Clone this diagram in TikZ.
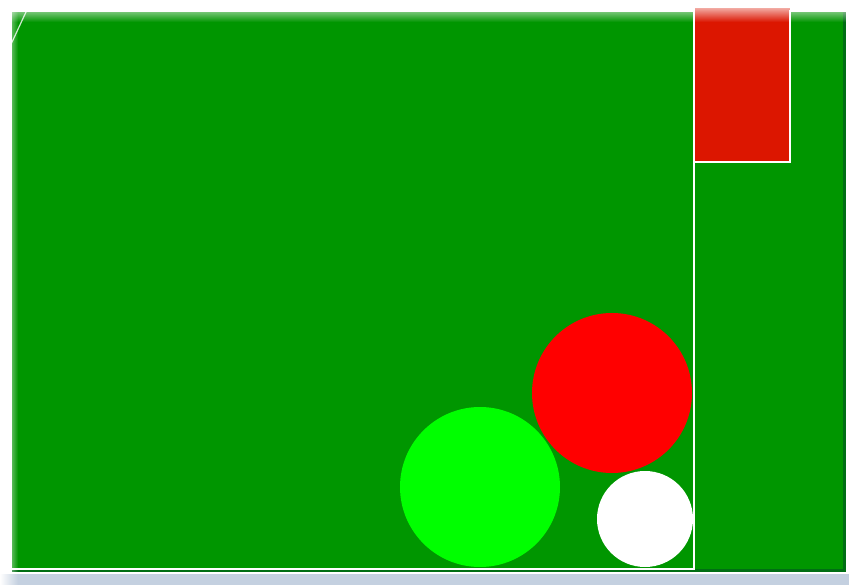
\documentclass[tikz,border=0pt]{standalone}
\usetikzlibrary{fadings}
\definecolor{felt}{RGB}{0,150,0}
\definecolor{dkfelt}{RGB}{0,110,20}
\definecolor{boxred}{RGB}{220,22,0}
\definecolor{ballred}{RGB}{255,0,0}
\definecolor{ballgreen}{RGB}{0,255,0}
\definecolor{strip}{RGB}{196,208,224}
\tikzset{
  edge/.style={draw=white, line width=1.6pt},
  ball/.style={circle, inner sep=0pt, draw=none}
}
\begin{document}
\begin{tikzpicture}[x=1pt,y=-1pt]
\useasboundingbox (0,0) rectangle (849,585);
\fill[white] (0,0) rectangle (849,585);
% bottom strip
\fill[strip] (0,574) rectangle (849,585);
% table felt
\fill[dkfelt] (12,12) rectangle (846,572);
\fill[felt] (12,12) rectangle (843,569);
% soft top fade
\fill[white, path fading=south] (0,0) rectangle (849,22);
\fill[white, path fading=east] (0,0) rectangle (18,585);
% red box
\fill[boxred] (695,8) rectangle (790,162);
\fill[white, path fading=south] (695,0) rectangle (790,22);
\draw[edge] (790,10) -- (790,162) -- (695,162);
% balls
\node[ball, fill=ballred, minimum size=160pt] (r) at (612,393) {};
\node[ball, fill=ballgreen, minimum size=160pt] (g) at (480,487) {};
\node[ball, fill=white, minimum size=96pt] (w) at (645,519) {};
% cushion lines
\coordinate (tl) at (694,10);
\coordinate (br) at (694,569);
\coordinate (bl) at (6,569);
\draw[edge] (tl) -- (br) -- (bl);
% top-left arc
\draw[white, line width=1.2pt, opacity=0.8] (11,44) .. controls (17,32) and (22,20) .. (28,8);
\end{tikzpicture}
\end{document}
